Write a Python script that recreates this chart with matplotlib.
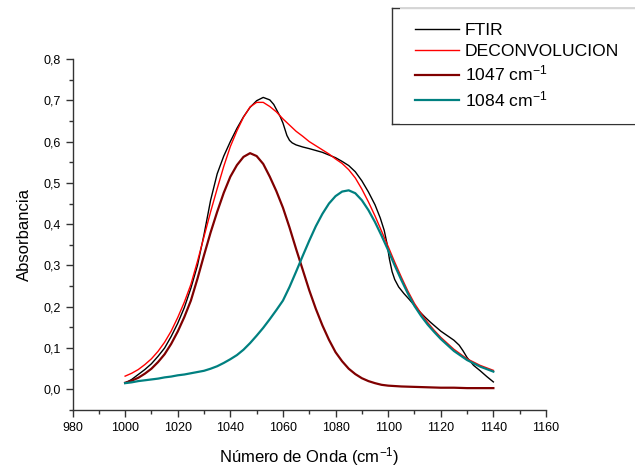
import matplotlib
matplotlib.use('Agg')
import matplotlib.pyplot as plt
from matplotlib.lines import Line2D
from matplotlib.ticker import MultipleLocator, FuncFormatter

plt.rcParams['font.family'] = ['Liberation Sans', 'DejaVu Sans']
plt.rcParams['mathtext.default'] = 'regular'

# FTIR spectrum
ftir_x = [1000, 1002.5, 1005, 1007.5, 1010, 1012.5, 1015, 1017.5, 1020, 1022.5, 1025, 1027.5,
          1030, 1032.5, 1035, 1037.5, 1040, 1042.5, 1045, 1047.5, 1050, 1052.5, 1055, 1056.5,
          1058, 1059, 1060, 1061, 1061.5, 1062.5, 1063.5, 1065, 1067.5, 1070, 1075, 1080,
          1082.5, 1085, 1087.5, 1090, 1092.5, 1095, 1097, 1098.5, 1099.5, 1100.5, 1101.5,
          1102.5, 1104, 1106, 1108, 1110, 1112, 1114, 1116, 1118, 1120, 1122.5, 1125, 1127,
          1128.5, 1130, 1132.5, 1135, 1137.5, 1140]
ftir_y = [0.015, 0.024, 0.036, 0.048, 0.062, 0.080, 0.100, 0.128, 0.160, 0.198, 0.245, 0.300,
          0.375, 0.458, 0.522, 0.565, 0.600, 0.632, 0.660, 0.683, 0.699, 0.707, 0.701, 0.690,
          0.672, 0.660, 0.645, 0.625, 0.615, 0.603, 0.597, 0.592, 0.587, 0.583, 0.574, 0.561,
          0.552, 0.542, 0.527, 0.505, 0.478, 0.447, 0.415, 0.385, 0.355, 0.315, 0.285,
          0.266, 0.248, 0.232, 0.218, 0.203, 0.188, 0.175, 0.163, 0.152, 0.141, 0.130, 0.119, 0.107,
          0.093, 0.077, 0.058, 0.045, 0.031, 0.018]

# deconvolution and its two bands
comp_x = [1000, 1002.5, 1005, 1007.5, 1010, 1012.5, 1015, 1017.5, 1020, 1022.5, 1025, 1027.5,
          1030, 1032.5, 1035, 1037.5, 1040, 1042.5, 1045, 1047.5, 1050, 1052.5, 1055, 1057.5,
          1060, 1062.5, 1065, 1067.5, 1070, 1072.5, 1075, 1077.5, 1080, 1082.5, 1085, 1087.5,
          1090, 1092.5, 1095, 1097.5, 1100, 1102.5, 1105, 1107.5, 1110, 1112.5, 1115, 1117.5,
          1120, 1125, 1130, 1135, 1140]
deconv_y = [0.032, 0.039, 0.048, 0.060, 0.074, 0.092, 0.114, 0.141, 0.174, 0.211, 0.254, 0.310,
            0.370, 0.430, 0.486, 0.540, 0.588, 0.626, 0.659, 0.684, 0.695, 0.695, 0.685, 0.672,
            0.655, 0.640, 0.625, 0.613, 0.600, 0.590, 0.580, 0.570, 0.558, 0.547, 0.532, 0.512,
            0.485, 0.454, 0.420, 0.383, 0.346, 0.308, 0.272, 0.238, 0.208, 0.184, 0.162, 0.143,
            0.126, 0.097, 0.074, 0.058, 0.046]
band1047_y = [0.016, 0.021, 0.028, 0.038, 0.050, 0.066, 0.085, 0.110, 0.140, 0.175, 0.215, 0.268,
              0.325, 0.380, 0.430, 0.476, 0.515, 0.543, 0.563, 0.572, 0.565, 0.546, 0.515, 0.480,
              0.440, 0.392, 0.340, 0.290, 0.240, 0.195, 0.155, 0.120, 0.090, 0.068, 0.050, 0.037,
              0.027, 0.020, 0.015, 0.011, 0.009, 0.008, 0.007, 0.0065, 0.006, 0.0055, 0.005, 0.0045,
              0.004, 0.004, 0.003, 0.003, 0.003]
band1084_y = [0.015, 0.017, 0.020, 0.022, 0.024, 0.026, 0.029, 0.031, 0.034, 0.036, 0.039, 0.042,
              0.045, 0.050, 0.056, 0.064, 0.073, 0.083, 0.096, 0.112, 0.130, 0.149, 0.170, 0.192,
              0.215, 0.248, 0.285, 0.323, 0.360, 0.395, 0.425, 0.450, 0.468, 0.479, 0.482, 0.475,
              0.458, 0.434, 0.405, 0.372, 0.337, 0.300, 0.265, 0.232, 0.202, 0.178, 0.157, 0.139,
              0.122, 0.093, 0.071, 0.055, 0.043]

fig = plt.figure(figsize=(6.35, 4.71), dpi=100)
ax = fig.add_axes([0.1142, 0.1295, 0.7456, 0.7452])

ax.plot(ftir_x, ftir_y, color='black', lw=1.0, label='FTIR')
ax.plot(comp_x, deconv_y, color='#ff0000', lw=1.0, label='DECONVOLUCION')
ax.plot(comp_x, band1047_y, color='#800000', lw=1.6, label='1047 cm$^{-1}$')
ax.plot(comp_x, band1084_y, color='#008080', lw=1.6, label='1084 cm$^{-1}$')

ax.set_xlim(980, 1160)
ax.set_ylim(-0.05, 0.8)
ax.xaxis.set_major_locator(MultipleLocator(20))
ax.xaxis.set_minor_locator(MultipleLocator(10))
ax.yaxis.set_major_locator(MultipleLocator(0.1))
ax.yaxis.set_minor_locator(MultipleLocator(0.05))
ax.yaxis.set_major_formatter(FuncFormatter(lambda v, p: f"{v:.1f}".replace('.', ',')))

for s in ['top', 'right']:
    ax.spines[s].set_visible(False)
for s in ['left', 'bottom']:
    ax.spines[s].set_color('#333333')
    ax.spines[s].set_linewidth(1.0)
ax.tick_params(which='major', direction='out', length=5, width=1, color='#333333', labelsize=9)
ax.tick_params(which='minor', direction='out', length=3, width=1, color='#333333')

ax.set_xlabel('Número de Onda (cm$^{-1}$)', fontsize=12, labelpad=8)
ax.set_ylabel('Absorbancia', fontsize=12, labelpad=8)

# legend box runs off the right edge like in the original
box_left = 392 / 635
leg = fig.legend(loc='upper left', bbox_to_anchor=(400 / 635, 1 - 8 / 471, 0.5, 0),
                 mode='expand', fontsize=12.6, frameon=True, fancybox=False,
                 edgecolor='none', handlelength=2.5, handletextpad=0.35,
                 labelspacing=0.3, borderpad=0.85, borderaxespad=0)

# draw only the top, left and bottom edges of the box
fig.canvas.draw()
bb = leg.get_frame().get_window_extent().transformed(fig.transFigure.inverted())
for xs, ys in [([box_left, 1.0], [bb.y1, bb.y1]),
               ([box_left, box_left], [bb.y0, bb.y1]),
               ([box_left, 1.0], [bb.y0, bb.y0])]:
    fig.add_artist(Line2D(xs, ys, color='#333333', lw=1.0, transform=fig.transFigure))

fig.savefig('out.png', dpi=100)
